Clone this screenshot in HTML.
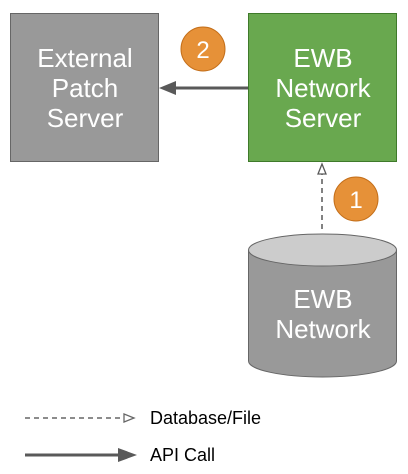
<!DOCTYPE html>
<html><head><style>body{margin:0;background:#fff}svg{display:block}</style></head><body>
<svg width="408" height="474" viewBox="0 0 408 474" xmlns="http://www.w3.org/2000/svg" font-family="Liberation Sans, sans-serif">
<rect x="10.5" y="13.5" width="148" height="148" fill="#999999" stroke="#666666"/>
<rect x="248.5" y="13.5" width="148" height="148" fill="#69a84f" stroke="#3f7a2a"/>
<g fill="#fff" font-size="26" text-anchor="middle">
<text x="85" y="67">External</text><text x="85" y="97">Patch</text><text x="85" y="127">Server</text>
<text x="323" y="67">EWB</text><text x="323" y="97">Network</text><text x="323" y="127">Server</text>
</g>
<line x1="248" y1="88" x2="172" y2="88" stroke="#595959" stroke-width="3"/>
<polygon points="159,88 176,81 176,95" fill="#595959"/>
<line x1="322" y1="229" x2="322" y2="174" stroke="#595959" stroke-width="1.5" stroke-dasharray="5,4"/>
<polygon points="322,164 318,174 326,174" fill="#fff" stroke="#595959" stroke-width="1.3"/>
<path d="M248.5,250 L248.5,361 A74,16 0 0 0 396.5,361 L396.5,250" fill="#999999" stroke="#666666"/>
<ellipse cx="322.5" cy="250" rx="74" ry="16" fill="#cccccc" stroke="#666666"/>
<text x="323" y="308" fill="#fff" font-size="26" text-anchor="middle">EWB</text>
<text x="323" y="338" fill="#fff" font-size="26" text-anchor="middle">Network</text>
<circle cx="203" cy="49" r="22" fill="#e69138" stroke="#c46f1a"/>
<text x="203" y="58" fill="#fff" font-size="24" text-anchor="middle">2</text>
<circle cx="356" cy="199" r="22" fill="#e69138" stroke="#c46f1a"/>
<text x="356" y="208" fill="#fff" font-size="24" text-anchor="middle">1</text>
<line x1="25" y1="418" x2="123" y2="418" stroke="#666" stroke-width="1.5" stroke-dasharray="5,4"/>
<polygon points="124,414 134,418 124,422" fill="#fff" stroke="#666" stroke-width="1.3"/>
<line x1="25" y1="455" x2="120" y2="455" stroke="#595959" stroke-width="3"/>
<polygon points="118,448 137,455 118,462" fill="#595959"/>
<text x="150" y="424" font-size="18" fill="#000">Database/File</text>
<text x="150" y="461" font-size="18" fill="#000">API Call</text>
</svg>
</body></html>
